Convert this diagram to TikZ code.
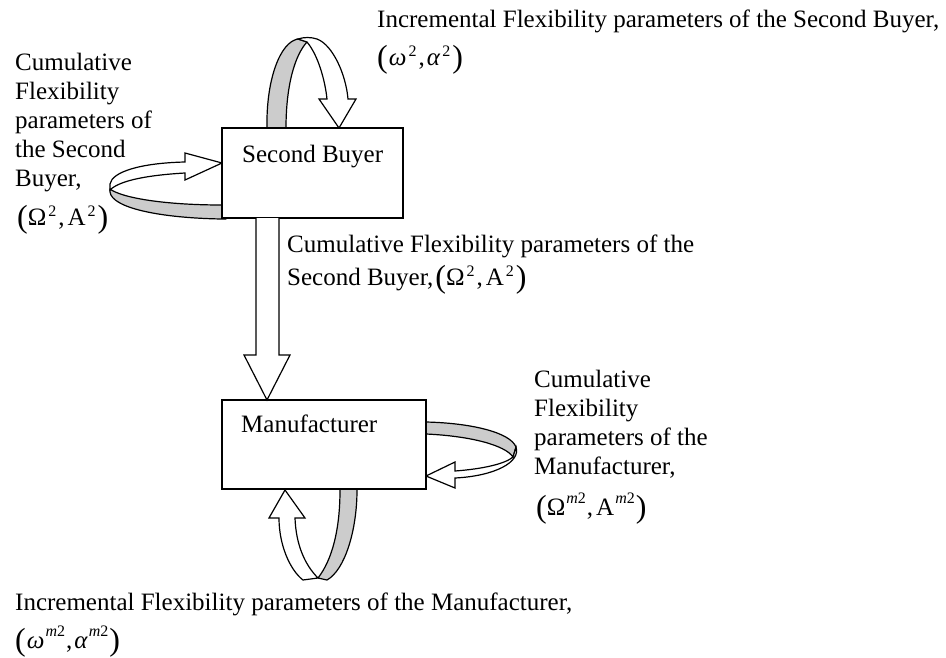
\documentclass[tikz,border=0pt]{standalone}
\usepackage{fontspec}
\setmainfont{Liberation Serif}
\usetikzlibrary{calc}

% equation-style pieces: larger parentheses and raised indices
\newcommand\bparen[1]{\raisebox{-2pt}{\fontsize{32}{32}\selectfont #1}}
\newcommand\idxlow[1]{\raisebox{8.5pt}{\fontsize{16}{16}\selectfont #1}}
\newcommand\idxhigh[1]{\raisebox{12pt}{\fontsize{16}{16}\selectfont #1}}
\newcommand\incrsb{\bparen{(}\kern1pt\textit{ω}\kern2pt\idxlow{2}\kern2pt,\kern2pt\textit{α}\kern2pt\idxlow{2}\kern2pt\bparen{)}}
\newcommand\cumsb{\bparen{(}Ω\kern2pt\idxlow{2}\kern2pt,\kern3pt A\kern2pt\idxlow{2}\kern2pt\bparen{)}}
\newcommand\cummf{\bparen{(}Ω\kern1pt\idxhigh{\textit{m}2}\kern1pt,\kern3pt A\kern1pt\idxhigh{\textit{m}2}\kern1pt\bparen{)}}
\newcommand\incrmf{\bparen{(}\kern1pt\textit{ω}\kern1pt\idxhigh{\textit{m}2}\kern1pt,\kern2pt\textit{α}\kern1pt\idxhigh{\textit{m}2}\kern1pt\bparen{)}}

\definecolor{bandgray}{RGB}{204,204,204}

\tikzset{
  every node/.style={font=\fontsize{25}{29}\selectfont, inner sep=0pt},
  box/.style={draw, line width=1.2pt, fill=white, rectangle},
  txt/.style={anchor=base west, align=left},
  back/.style={fill=bandgray, draw, line width=1.2pt, line join=round},
  front/.style={fill=white, draw, line width=1.2pt, line join=miter},
}

\begin{document}
\begin{tikzpicture}[x=1pt, y=-1pt]
\useasboundingbox (0,0) rectangle (946,657);

% --- self loop on top of the Second Buyer box
\path[back] (267,132) -- (267,128) .. controls (266,80) and (280,42) .. (298,39)
  -- (307,42) .. controls (295,55) and (286,85) .. (286,128) -- (286,132) -- cycle;
\path[front] (298,39) .. controls (304,37) and (311,37) .. (317,39)
  .. controls (333,45) and (346,75) .. (348,99) -- (356,99) -- (339,128) -- (319,99) -- (327,99)
  .. controls (325,80) and (318,55) .. (307,42) -- cycle;

% --- self loop on the left of the Second Buyer box
\path[back] (226,219) -- (222,219) .. controls (160,218) and (112,208) .. (110,192)
  -- (110,189) .. controls (122,198) and (165,205) .. (222,205) -- (226,205) -- cycle;
\path[front] (110,190) -- (110,184) .. controls (112,172) and (140,163) .. (185,162)
  -- (185,153) -- (222,163) -- (185,180) -- (185,173)
  .. controls (150,175) and (120,180) .. (110,190) -- cycle;

% --- self loop on the right of the Manufacturer box
\path[back] (422,422) -- (426,422) .. controls (470,423) and (510,432) .. (516,447)
  -- (513,457) .. controls (505,445) and (470,436) .. (426,434) -- (422,434) -- cycle;
\path[front] (516,447) .. controls (521,462) and (495,476) .. (455,478)
  -- (455,488) -- (426,476) -- (455,462) -- (455,471)
  .. controls (482,469) and (505,464) .. (513,457) -- cycle;

% --- self loop below the Manufacturer box
\path[back] (357,486) -- (357,490) .. controls (357,530) and (345,570) .. (327,580)
  -- (318,578) .. controls (332,560) and (340,530) .. (340,490) -- (340,486) -- cycle;
\path[front] (318,578) -- (303,580) .. controls (290,570) and (279,545) .. (279,518)
  -- (269,518) -- (285,490) -- (305,518) -- (295,518)
  .. controls (296,545) and (305,565) .. (318,578) -- cycle;

% --- boxes
\node[box, minimum width=181pt, minimum height=90pt] (sb) at (312.5,173) {};
\node[box, minimum width=204pt, minimum height=89pt] (mf) at (324,444.5) {};
\node[txt] (sblabel) at (242,162) {Second Buyer};
\node[txt] (mflabel) at (241,432) {Manufacturer};

% --- block arrow from the Second Buyer to the Manufacturer
\fill[white] (256,218) -- (256,355) -- (244,355) -- (267,400) -- (290,355) -- (279,355) -- (279,218) -- cycle;
\draw[line width=1.2pt, line join=miter] (256,218) -- (256,355) -- (244,355) -- (267,400)
  -- (290,355) -- (279,355) -- (279,218);

% --- labels
\node[txt] (incsbtext) at (377,27) {\begin{tabular}[t]{@{}l@{}}Incremental Flexibility parameters of the Second Buyer,\\[9pt]\incrsb\end{tabular}};
\node[txt] (cumsbleft) at (15,70) {\begin{tabular}[t]{@{}l@{}}Cumulative\\Flexibility\\parameters of\\the Second\\Buyer,\\[10pt]\kern2pt\cumsb\end{tabular}};
\node[txt] (cumsbmid) at (287,252) {\begin{tabular}[t]{@{}l@{}}Cumulative Flexibility parameters of the\\[4pt]Second Buyer,\kern2pt\cumsb\end{tabular}};
\node[txt] (cummftext) at (534,387) {\begin{tabular}[t]{@{}l@{}}Cumulative\\Flexibility\\parameters of the\\Manufacturer,\\[10pt]\kern2pt\cummf\end{tabular}};
\node[txt] (incmftext) at (15,610) {\begin{tabular}[t]{@{}l@{}}Incremental Flexibility parameters of the Manufacturer,\\[7pt]\incrmf\end{tabular}};
\end{tikzpicture}
\end{document}
